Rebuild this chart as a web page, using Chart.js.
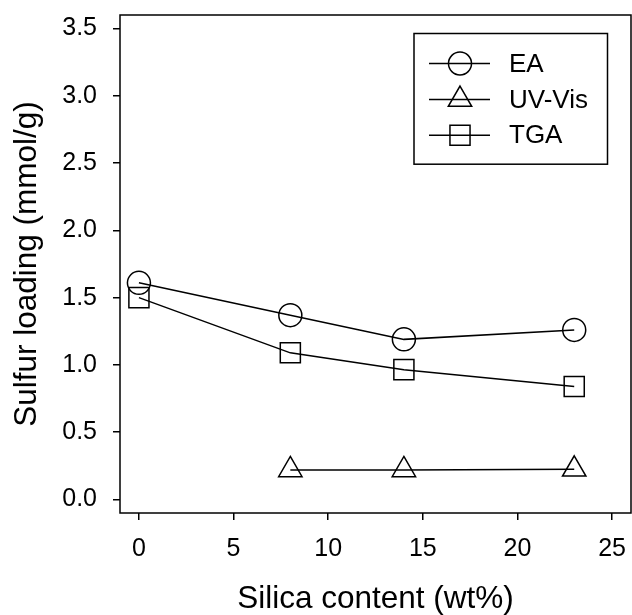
<!DOCTYPE html>
<html>
<head>
<meta charset="utf-8">
<script src="https://cdn.jsdelivr.net/npm/chart.js@4/dist/chart.umd.min.js"></script>
<style>
  html, body { margin: 0; padding: 0; background: #ffffff; }
  #wrap { width: 632px; height: 615px; }
</style>
</head>
<body>
<div id="wrap"><canvas id="c" width="632" height="615"></canvas></div>
<script>
// ---- data ----
const silicaContent = [0, 8, 14, 23];            // wt%
const eaValues      = [1.61, 1.37, 1.19, 1.26];  // EA
const uvVisX        = [8, 14, 23];
const uvVisValues   = [0.22, 0.22, 0.225];        // UV-Vis
const tgaValues     = [1.50, 1.09, 0.965, 0.84];  // TGA
const xTickValues   = [0, 5, 10, 15, 20, 25];
const yTickValues   = [0.0, 0.5, 1.0, 1.5, 2.0, 2.5, 3.0, 3.5];
const seriesNames   = ['EA', 'UV-Vis', 'TGA'];
const xTitle = 'Silica content (wt%)';
const yTitle = 'Sulfur loading (mmol/g)';

const FONT = '"Liberation Sans", Arial, Helvetica, sans-serif';
const styles = { 'EA': ['circle', 11.5], 'UV-Vis': ['triangle', 13.5], 'TGA': ['rect', 14.2] };

function pts(xs, ys) { return xs.map((x, i) => ({ x: x, y: ys[i] })); }

function ds(label, data) {
  return {
    label: label,
    data: data,
    borderColor: '#000',
    borderWidth: 1.5,
    backgroundColor: 'rgba(0,0,0,0)',
    pointStyle: styles[label][0],
    pointRadius: styles[label][1],
    pointHoverRadius: styles[label][1],
    pointBorderWidth: 1.5,
    pointBorderColor: '#000',
    pointBackgroundColor: 'rgba(0,0,0,0)',
    tension: 0,
    fill: false
  };
}

function drawMarker(ctx, style, x, y, r) {
  ctx.beginPath();
  if (style === 'circle') {
    ctx.arc(x, y, r, 0, Math.PI * 2);
  } else if (style === 'triangle') {
    ctx.moveTo(x, y - r);
    ctx.lineTo(x + r * Math.sin(2 * Math.PI / 3), y - r * Math.cos(2 * Math.PI / 3));
    ctx.lineTo(x + r * Math.sin(4 * Math.PI / 3), y - r * Math.cos(4 * Math.PI / 3));
    ctx.closePath();
  } else {
    const h = r * Math.SQRT1_2;
    ctx.rect(x - h, y - h, 2 * h, 2 * h);
  }
  ctx.stroke();
}

const framePlugin = {
  id: 'frameAndLegend',
  afterDraw(chart) {
    const ctx = chart.ctx;
    const a = chart.chartArea;
    ctx.save();
    ctx.strokeStyle = '#000';
    ctx.lineWidth = 1.5;
    ctx.strokeRect(a.left, a.top, a.right - a.left, a.bottom - a.top);

    // legend box
    const bx = a.right - 217, by = a.top + 18.5, bw = 193.5, bh = 130.7;
    ctx.strokeRect(bx, by, bw, bh);
    const rowY = [by + 30, by + 66, by + 101.7];
    ctx.font = '26px ' + FONT;
    ctx.fillStyle = '#000';
    ctx.textBaseline = 'middle';
    ctx.textAlign = 'left';
    seriesNames.forEach((name, i) => {
      const y = rowY[i];
      ctx.beginPath();
      ctx.moveTo(bx + 15, y);
      ctx.lineTo(bx + 76, y);
      ctx.stroke();
      drawMarker(ctx, styles[name][0], bx + 46, y, styles[name][1]);
      ctx.fillText(name, bx + 95, y + 1);
    });
    ctx.restore();
  }
};

new Chart(document.getElementById('c'), {
  type: 'line',
  data: {
    datasets: [
      ds(seriesNames[0], pts(silicaContent, eaValues)),
      ds(seriesNames[1], pts(uvVisX, uvVisValues)),
      ds(seriesNames[2], pts(silicaContent, tgaValues))
    ]
  },
  options: {
    responsive: false,
    animation: false,
    events: [],
    layout: { autoPadding: false, padding: { top: 15, right: 1, left: 0, bottom: 0 } },
    plugins: { legend: { display: false }, tooltip: { enabled: false } },
    scales: {
      x: {
        type: 'linear',
        min: -1, max: 26,
        afterBuildTicks: s => { s.ticks = xTickValues.map(v => ({ value: v })); },
        afterFit: s => { s.height = 102; s.paddingLeft = 0; s.paddingRight = 0; },
        border: { display: false },
        grid: { display: true, drawOnChartArea: false, drawTicks: true, tickLength: 7, color: '#000', lineWidth: 1.5 },
        ticks: { color: '#000', font: { family: FONT, size: 25 }, padding: 14, maxRotation: 0, autoSkip: false },
        title: { display: true, text: xTitle, color: '#000', font: { family: FONT, size: 31.5, lineHeight: 1 }, padding: { top: 0, bottom: 0 } }
      },
      y: {
        type: 'linear',
        min: -0.1, max: 3.6,
        afterBuildTicks: s => { s.ticks = yTickValues.map(v => ({ value: v })); },
        afterFit: s => { s.width = 120; s.paddingTop = 0; s.paddingBottom = 0; },
        border: { display: false },
        grid: { display: true, drawOnChartArea: false, drawTicks: true, tickLength: 7, color: '#000', lineWidth: 1.5 },
        ticks: { color: '#000', font: { family: FONT, size: 25 }, padding: 16, autoSkip: false, callback: v => Number(v).toFixed(1) },
        title: { display: true, text: yTitle, color: '#000', font: { family: FONT, size: 31.5, lineHeight: 1 }, padding: { top: 11.5, bottom: 0 } }
      }
    }
  },
  plugins: [framePlugin]
});
</script>
</body>
</html>
